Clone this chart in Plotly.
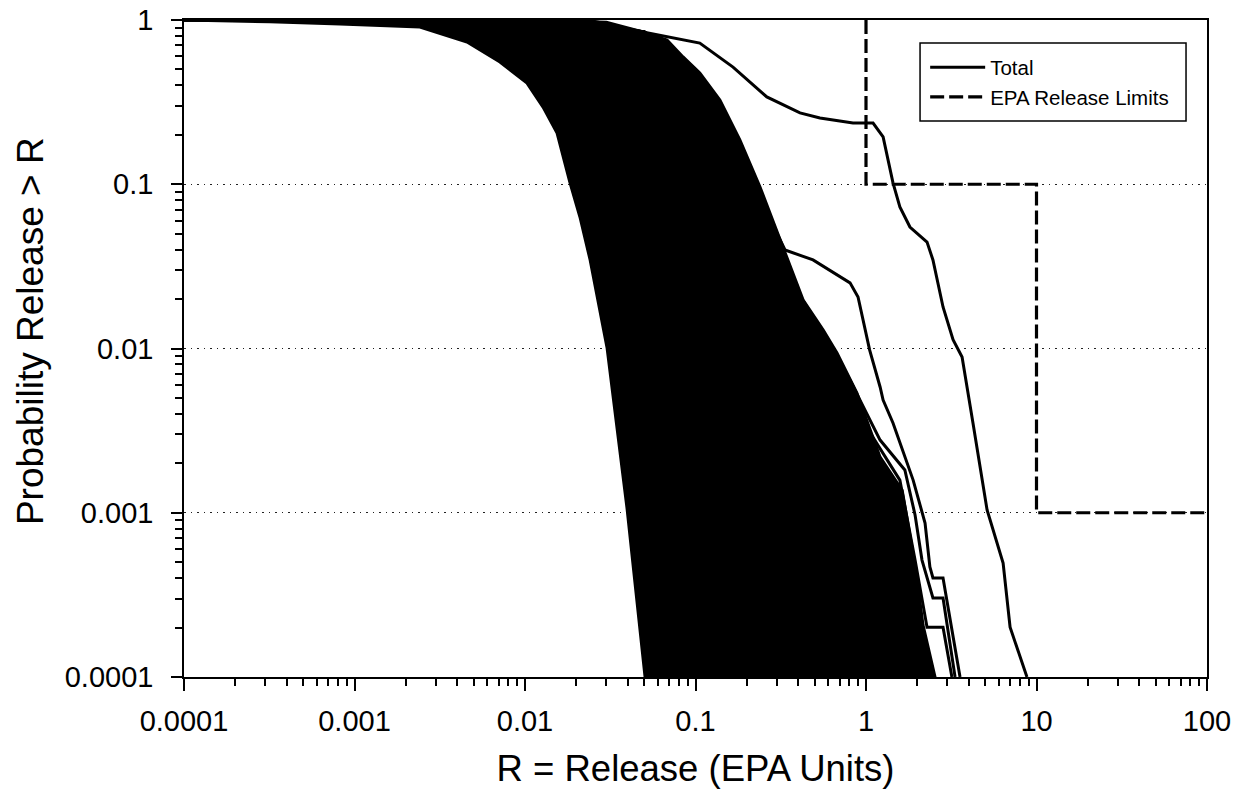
import plotly.graph_objects as go

# ---------------- data ----------------
# Envelope of the dense bundle of realisation curves
band_left_x = [1e-4, 3.19e-4, 8.22e-4, 0.00242, 0.00457, 0.00713, 0.01028, 0.01276,
               0.01542, 0.01837, 0.0210, 0.0241, 0.0303, 0.0396, 0.0506]
band_left_y = [1.0, 0.976, 0.945, 0.905, 0.735, 0.555, 0.413, 0.295,
               0.205, 0.102, 0.0632, 0.0346, 0.01007, 0.00108, 0.0001]
band_right_x = [1e-4, 0.0251, 0.0492, 0.0681, 0.0845, 0.106, 0.139, 0.182, 0.239,
                0.313, 0.428, 0.560, 0.676, 0.885, 1.21, 1.63, 1.86, 2.02, 2.16, 2.54]
band_right_y = [1.0, 0.985, 0.845, 0.755, 0.596, 0.476, 0.326, 0.186, 0.0962,
                0.0458, 0.0197, 0.0130, 0.00939, 0.00536, 0.00218, 0.00137,
                0.000618, 0.000353, 0.000207, 0.0001]

# Individual curves that stand out of the bundle
c1_x = [1e-4, 0.001, 0.01, 0.03, 0.0492, 0.106, 0.166, 0.262, 0.410, 0.537, 0.839,
        1.10, 1.26, 1.44, 1.58, 1.81, 2.28, 2.47, 2.83, 3.24, 3.66, 4.24, 5.13,
        6.37, 7.00, 8.79]
c1_y = [1.0, 1.0, 0.998, 0.97, 0.845, 0.724, 0.517, 0.340, 0.272, 0.253, 0.236,
        0.236, 0.194, 0.102, 0.0727, 0.0549, 0.0445, 0.0346, 0.0179, 0.0113,
        0.00887, 0.00352, 0.00104, 0.000494, 0.000201, 0.0001]

c2_x = [1e-4, 0.01, 0.05, 0.1, 0.2, 0.3, 0.335, 0.489, 0.640, 0.806, 0.898, 0.960,
        1.05, 1.21, 1.26, 1.44, 1.89, 2.22, 2.37, 2.47, 2.83, 3.56]
c2_y = [1.0, 0.99, 0.85, 0.5, 0.12, 0.05, 0.0398, 0.0346, 0.0292, 0.0251, 0.0206,
        0.0149, 0.0098, 0.00583, 0.00486, 0.00352, 0.00158, 0.000866, 0.000468,
        0.000401, 0.000401, 0.0001]

c3_x = [1e-4, 0.01, 0.05, 0.1, 0.2, 0.4, 0.8, 1.21, 1.69, 1.94, 2.13, 2.47, 2.83, 3.33]
c3_y = [1.0, 0.99, 0.85, 0.5, 0.12, 0.022, 0.0065, 0.00277, 0.00182, 0.000969,
        0.000515, 0.000303, 0.000303, 0.0001]

c4_x = [1e-4, 0.01, 0.05, 0.1, 0.2, 0.4, 0.9, 1.58, 1.94, 2.28, 2.83, 3.19]
c4_y = [1.0, 0.99, 0.85, 0.5, 0.12, 0.02, 0.004, 0.00158, 0.000515, 0.000201,
        0.000201, 0.0001]

epa_x = [1, 1, 10, 10, 100]
epa_y = [1, 0.1, 0.1, 0.001, 0.001]

x_tick_vals = [1e-4, 1e-3, 1e-2, 1e-1, 1, 10, 100]
x_tick_text = ["0.0001", "0.001", "0.01", "0.1", "1", "10", "100"]
y_tick_vals = [1e-4, 1e-3, 1e-2, 1e-1, 1]
y_tick_text = ["0.0001", "0.001", "0.01", "0.1", "1"]

# ---------------- figure ----------------
FONT = "Liberation Sans, Arial, sans-serif"
LW = 3

fig = go.Figure()

band_x = band_left_x + band_right_x[::-1]
band_y = band_left_y + band_right_y[::-1]
fig.add_trace(go.Scatter(x=band_x, y=band_y, mode="lines", fill="toself",
                         fillcolor="black", line=dict(color="black", width=LW),
                         legendgroup="total", showlegend=False, hoverinfo="skip"))

fig.add_trace(go.Scatter(x=c1_x, y=c1_y, mode="lines", name="Total",
                         line=dict(color="black", width=LW), legendgroup="total"))
for cx, cy in [(c2_x, c2_y), (c3_x, c3_y), (c4_x, c4_y)]:
    fig.add_trace(go.Scatter(x=cx, y=cy, mode="lines", showlegend=False,
                             line=dict(color="black", width=LW), legendgroup="total"))

fig.add_trace(go.Scatter(x=epa_x, y=epa_y, mode="lines", name="EPA Release Limits",
                         line=dict(color="black", width=3.2, dash="14px,5px")))

x_minor = [k * 10.0 ** e for e in range(-4, 2) for k in range(2, 10)]
y_minor = [k * 10.0 ** e for e in range(-4, 0) for k in range(2, 10)]

# plot area on the page: x 184..1207, y 20..677 (body margin removed below)
fig.update_layout(
    width=1241, height=795,
    margin=dict(l=184, r=34, t=20, b=118, autoexpand=False),
    paper_bgcolor="white", plot_bgcolor="white",
    font=dict(family=FONT, color="black"),
    legend=dict(x=0.7245, y=0.9582, xanchor="left", yanchor="top",
                bgcolor="rgba(0,0,0,0)", borderwidth=0,
                font=dict(size=20.5, family=FONT), itemwidth=55,
                tracegroupgap=0),
    shapes=[dict(type="rect", xref="paper", yref="paper",
                 x0=0.7195, x1=0.9795, y0=0.8463, y1=0.965,
                 line=dict(color="black", width=1.5), fillcolor="white",
                 layer="above")],
    annotations=[dict(text="Probability Release > R", xref="paper", yref="paper",
                      x=-0.1505, y=0.5266, textangle=-90, showarrow=False,
                      xanchor="center", yanchor="middle",
                      font=dict(size=37, family=FONT, color="black"))],
)

fig.update_xaxes(
    type="log", range=[-4, 2], automargin=False,
    tickvals=x_tick_vals, ticktext=x_tick_text, ticklabeloverflow="allow",
    ticks="outside", ticklen=12, tickwidth=1.5, tickcolor="black",
    tickfont=dict(size=29, family=FONT), ticklabelstandoff=5,
    showline=True, linecolor="black", linewidth=1.5, mirror=True,
    showgrid=False, zeroline=False,
    minor=dict(tickvals=x_minor, ticks="outside", ticklen=7, tickwidth=1.5,
               tickcolor="black", showgrid=False),
    title=dict(text="R = Release (EPA Units)", font=dict(size=36.5, family=FONT),
               standoff=20),
)
fig.update_yaxes(
    type="log", range=[-4, 0], automargin=False,
    tickvals=y_tick_vals, ticktext=y_tick_text, ticklabeloverflow="allow",
    ticks="outside", ticklen=11, tickwidth=1.5, tickcolor="black",
    tickfont=dict(size=29, family=FONT), ticklabelstandoff=12,
    showline=True, linecolor="black", linewidth=1.5, mirror=True,
    showgrid=True, gridcolor="#222222", gridwidth=1.2, griddash="1.5px,5px",
    zeroline=False,
    minor=dict(tickvals=y_minor, ticks="outside", ticklen=7, tickwidth=1.5,
               tickcolor="black", showgrid=False),
)

fig.write_html("out.html",
               config={"displayModeBar": False},
               post_script="document.body.style.margin='0';"
                           "document.body.style.overflow='hidden';")
